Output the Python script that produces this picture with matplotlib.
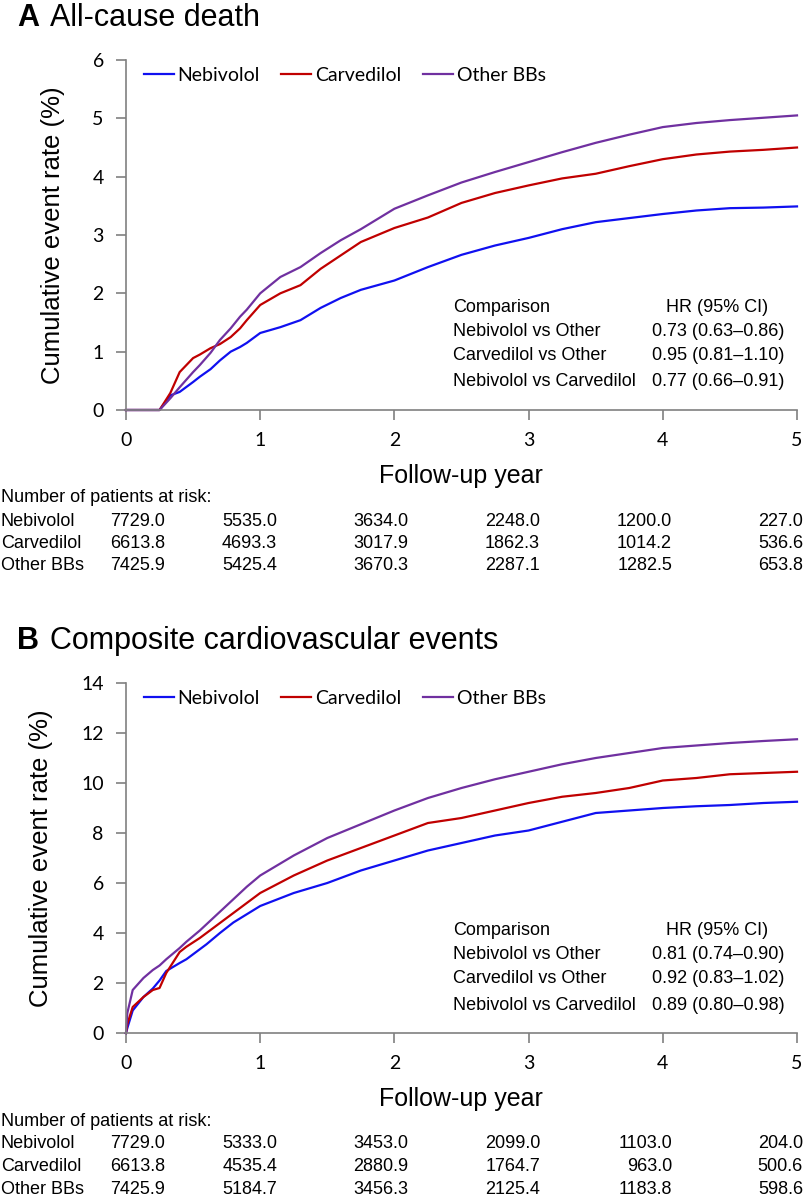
import numpy as np
import matplotlib.pyplot as plt

# 字体
plt.rcParams['font.family'] = ['Liberation Sans', 'DejaVu Sans']
TICK_FONT = ['Lato', 'DejaVu Sans']

# 颜色
c_nebi = '#1010F0'
c_carv = '#C00000'
c_other = '#7030A0'
c_axis = '#808080'

series_names = ['Nebivolol', 'Carvedilol', 'Other BBs']
risk_years = [0, 1, 2, 3, 4, 5]

# A: 全因死亡
years_a = [0, 0.25, 0.33, 0.4, 0.5, 0.55, 0.63, 0.7, 0.78, 0.85, 0.9, 1.0,
           1.15, 1.3, 1.45, 1.6, 1.75, 2.0, 2.25, 2.5, 2.75, 3.0, 3.25, 3.5,
           3.75, 4.0, 4.25, 4.5, 4.75, 5.0]
nebi_a = [0, 0, 0.25, 0.31, 0.48, 0.57, 0.7, 0.85, 1.0, 1.08, 1.15, 1.32,
          1.42, 1.54, 1.75, 1.92, 2.06, 2.22, 2.45, 2.66, 2.82, 2.95, 3.1, 3.22,
          3.29, 3.36, 3.42, 3.46, 3.47, 3.49]
carv_a = [0, 0, 0.29, 0.65, 0.89, 0.95, 1.06, 1.13, 1.25, 1.4, 1.54, 1.8,
          2.0, 2.14, 2.42, 2.65, 2.88, 3.12, 3.3, 3.55, 3.72, 3.85, 3.97, 4.05,
          4.18, 4.3, 4.38, 4.43, 4.46, 4.5]
other_a = [0, 0, 0.2, 0.39, 0.65, 0.77, 0.98, 1.2, 1.4, 1.6, 1.72, 2.0,
           2.28, 2.45, 2.69, 2.91, 3.1, 3.45, 3.68, 3.9, 4.08, 4.25, 4.42, 4.58,
           4.72, 4.85, 4.92, 4.97, 5.01, 5.05]
hr_labels_a = ['Nebivolol vs Other', 'Carvedilol vs Other', 'Nebivolol vs Carvedilol']
hr_values_a = ['0.73 (0.63\u20130.86)', '0.95 (0.81\u20131.10)', '0.77 (0.66\u20130.91)']
risk_a = [['7729.0', '5535.0', '3634.0', '2248.0', '1200.0', '227.0'],
          ['6613.8', '4693.3', '3017.9', '1862.3', '1014.2', '536.6'],
          ['7425.9', '5425.4', '3670.3', '2287.1', '1282.5', '653.8']]

# B: 复合心血管事件
years_b = [0, 0.01, 0.05, 0.13, 0.2, 0.25, 0.3, 0.4, 0.45, 0.55, 0.6, 0.7,
           0.8, 0.9, 1.0, 1.25, 1.5, 1.75, 2.0, 2.25, 2.5, 2.75, 3.0, 3.25,
           3.5, 3.75, 4.0, 4.25, 4.5, 4.75, 5.0]
nebi_b = [0, 0.2, 0.9, 1.44, 1.78, 2.1, 2.48, 2.8, 2.95, 3.35, 3.55, 4.0,
          4.42, 4.75, 5.08, 5.6, 6.0, 6.5, 6.9, 7.3, 7.6, 7.9, 8.1, 8.45,
          8.8, 8.9, 9.0, 9.07, 9.12, 9.2, 9.25]
carv_b = [0, 0.36, 1.04, 1.44, 1.72, 1.8, 2.4, 3.24, 3.45, 3.8, 4.0, 4.4,
          4.8, 5.2, 5.6, 6.3, 6.9, 7.4, 7.9, 8.4, 8.6, 8.9, 9.2, 9.45,
          9.6, 9.8, 10.1, 10.2, 10.35, 10.4, 10.45]
other_b = [0, 0.8, 1.72, 2.2, 2.52, 2.7, 2.95, 3.4, 3.65, 4.1, 4.35, 4.85,
           5.35, 5.85, 6.3, 7.1, 7.8, 8.35, 8.9, 9.4, 9.8, 10.15, 10.45, 10.75,
           11.0, 11.2, 11.4, 11.5, 11.6, 11.68, 11.75]
hr_labels_b = ['Nebivolol vs Other', 'Carvedilol vs Other', 'Nebivolol vs Carvedilol']
hr_values_b = ['0.81 (0.74\u20130.90)', '0.92 (0.83\u20131.02)', '0.89 (0.80\u20130.98)']
risk_b = [['7729.0', '5333.0', '3453.0', '2099.0', '1103.0', '204.0'],
          ['6613.8', '4535.4', '2880.9', '1764.7', '963.0', '500.6'],
          ['7425.9', '5184.7', '3456.3', '2125.4', '1183.8', '598.6']]

W, H = 805, 1199
fig = plt.figure(figsize=(W / 100, H / 100), dpi=100)


def px(x, y):
    # 像素坐标 -> 图坐标
    return x / W, 1 - y / H


def draw_panel(top, letter, title, years, curves, ymax, ystep,
               hr_labels, hr_values, risk):
    # top: 相对面板A的像素偏移
    ax = fig.add_axes([126 / W, 1 - (410 + top) / H, 671 / W, 350 / H])
    for vals, col, name in zip(curves, [c_nebi, c_carv, c_other], series_names):
        ax.plot(years, vals, color=col, lw=1.6, label=name, clip_on=False)
    ax.set_xlim(0, 5)
    ax.set_ylim(0, ymax)
    ax.set_xticks(risk_years)
    ax.set_yticks(np.arange(0, ymax + 0.1, ystep))
    for s in ['top', 'right']:
        ax.spines[s].set_visible(False)
    for s in ['left', 'bottom']:
        ax.spines[s].set_color(c_axis)
        ax.spines[s].set_linewidth(1.2)
    ax.tick_params(direction='out', color=c_axis, width=1.2, length=7,
                   labelsize=14, pad=9)
    for lab in ax.get_xticklabels() + ax.get_yticklabels():
        lab.set_family(TICK_FONT)
    ax.set_ylabel('Cumulative event rate (%)', fontsize=18.5, labelpad=20)

    ax.legend(loc='upper left', bbox_to_anchor=(0.0, 1.03), ncol=3,
              frameon=False, handlelength=1.55, handletextpad=0.2,
              columnspacing=1.1, prop={'family': TICK_FONT, 'size': 14})

    # HR 表
    rows_y = [0.292, 0.225, 0.157, 0.08]
    ax.text(0.487, rows_y[0], 'Comparison', transform=ax.transAxes,
            fontsize=13, va='center')
    ax.text(0.881, rows_y[0], 'HR (95% CI)', transform=ax.transAxes,
            fontsize=13, va='center', ha='center')
    for ry, lab, val in zip(rows_y[1:], hr_labels, hr_values):
        ax.text(0.487, ry, lab, transform=ax.transAxes, fontsize=13, va='center')
        ax.text(0.784, ry, val, transform=ax.transAxes, fontsize=13, va='center')

    # 标题
    fig.text(*px(17, 18 + top), letter, fontsize=22, fontweight='bold', va='center')
    fig.text(*px(50, 18 + top), title, fontsize=22, va='center')

    fig.text(*px(461, 476 + top), 'Follow-up year', fontsize=18,
             ha='center', va='center')

    # 风险人数表
    fig.text(*px(1, 498 + top), 'Number of patients at risk:', fontsize=13, va='center')
    col_right = [165, 277, 408, 540, 672, 803]
    for i, (name, row) in enumerate(zip(series_names, risk)):
        y = 521 + 22.5 * i + top
        fig.text(*px(1, y), name, fontsize=13, va='center')
        for xr, v in zip(col_right, row):
            fig.text(*px(xr, y), v, fontsize=13, va='center', ha='right')
    return ax


draw_panel(0, 'A', 'All-cause death', years_a, [nebi_a, carv_a, other_a],
           6, 1, hr_labels_a, hr_values_a, risk_a)
draw_panel(623, 'B', 'Composite cardiovascular events', years_b,
           [nebi_b, carv_b, other_b], 14, 2, hr_labels_b, hr_values_b, risk_b)

plt.savefig('out.png', dpi=100)
